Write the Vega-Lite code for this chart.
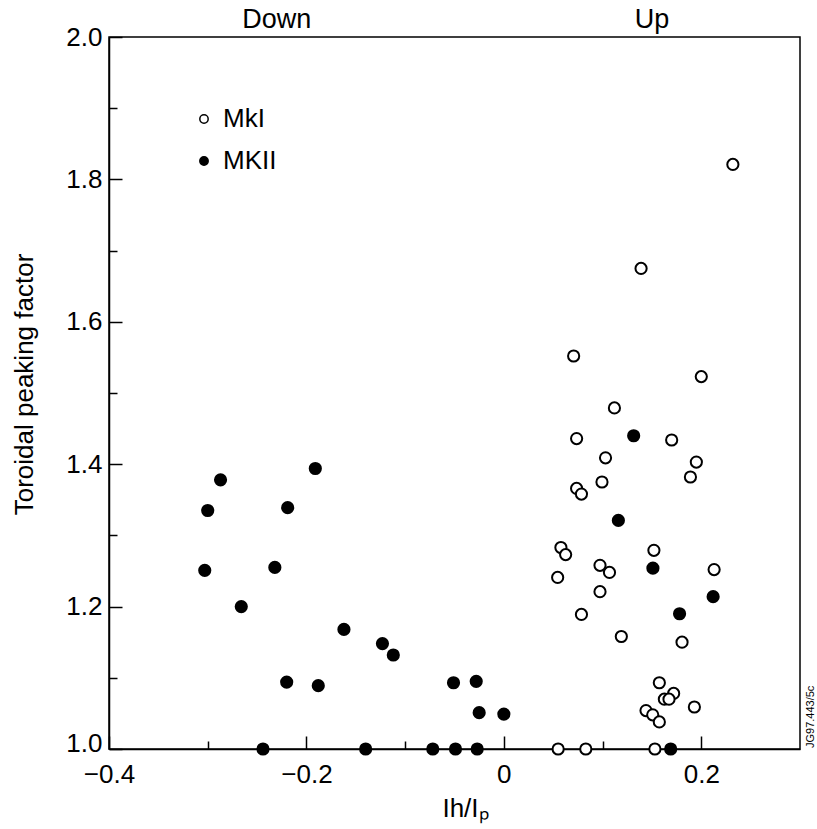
{
  "$schema": "https://vega.github.io/schema/vega-lite/v6.json",
  "autosize": {"type": "none"},
  "padding": {"left": 109, "top": 37, "right": 17, "bottom": 80},
  "width": 691,
  "height": 712,
  "background": "white",
  "config": {
    "font": "Liberation Sans",
    "view": {"stroke": "black", "strokeWidth": 1.5},
    "axis": {"grid": false, "domainColor": "black", "domainWidth": 1.5, "tickColor": "black", "tickWidth": 1.5, "labelColor": "black", "titleColor": "black", "labelFont": "Liberation Sans", "titleFont": "Liberation Sans", "labelFontSize": 26, "titleFontSize": 26, "titleFontWeight": "normal"}
  },
  "datasets": {
    "pts": [
      {"series": "MKII", "x": -0.287, "y": 1.378},
      {"series": "MKII", "x": -0.300, "y": 1.335},
      {"series": "MKII", "x": -0.191, "y": 1.394},
      {"series": "MKII", "x": -0.219, "y": 1.339},
      {"series": "MKII", "x": -0.303, "y": 1.251},
      {"series": "MKII", "x": -0.232, "y": 1.255},
      {"series": "MKII", "x": -0.266, "y": 1.200},
      {"series": "MKII", "x": -0.162, "y": 1.168},
      {"series": "MKII", "x": -0.123, "y": 1.148},
      {"series": "MKII", "x": -0.112, "y": 1.132},
      {"series": "MKII", "x": -0.220, "y": 1.094},
      {"series": "MKII", "x": -0.188, "y": 1.089},
      {"series": "MKII", "x": -0.244, "y": 1.0},
      {"series": "MKII", "x": -0.140, "y": 1.0},
      {"series": "MKII", "x": -0.051, "y": 1.093},
      {"series": "MKII", "x": -0.028, "y": 1.095},
      {"series": "MKII", "x": -0.025, "y": 1.051},
      {"series": "MKII", "x": 0.0, "y": 1.049},
      {"series": "MKII", "x": -0.072, "y": 1.0},
      {"series": "MKII", "x": -0.049, "y": 1.0},
      {"series": "MKII", "x": -0.027, "y": 1.0},
      {"series": "MKII", "x": 0.1315, "y": 1.440},
      {"series": "MKII", "x": 0.116, "y": 1.321},
      {"series": "MKII", "x": 0.151, "y": 1.254},
      {"series": "MKII", "x": 0.212, "y": 1.214},
      {"series": "MKII", "x": 0.178, "y": 1.190},
      {"series": "MKII", "x": 0.169, "y": 1.0},
      {"series": "MkI", "x": 0.232, "y": 1.821},
      {"series": "MkI", "x": 0.139, "y": 1.675},
      {"series": "MkI", "x": 0.0707, "y": 1.552},
      {"series": "MkI", "x": 0.200, "y": 1.523},
      {"series": "MkI", "x": 0.112, "y": 1.479},
      {"series": "MkI", "x": 0.0737, "y": 1.436},
      {"series": "MkI", "x": 0.170, "y": 1.434},
      {"series": "MkI", "x": 0.103, "y": 1.409},
      {"series": "MkI", "x": 0.195, "y": 1.403},
      {"series": "MkI", "x": 0.189, "y": 1.382},
      {"series": "MkI", "x": 0.0994, "y": 1.375},
      {"series": "MkI", "x": 0.0737, "y": 1.366},
      {"series": "MkI", "x": 0.0786, "y": 1.358},
      {"series": "MkI", "x": 0.0578, "y": 1.283},
      {"series": "MkI", "x": 0.0626, "y": 1.273},
      {"series": "MkI", "x": 0.152, "y": 1.279},
      {"series": "MkI", "x": 0.0974, "y": 1.258},
      {"series": "MkI", "x": 0.107, "y": 1.248},
      {"series": "MkI", "x": 0.213, "y": 1.252},
      {"series": "MkI", "x": 0.0545, "y": 1.241},
      {"series": "MkI", "x": 0.0974, "y": 1.221},
      {"series": "MkI", "x": 0.0786, "y": 1.189},
      {"series": "MkI", "x": 0.119, "y": 1.158},
      {"series": "MkI", "x": 0.1805, "y": 1.150},
      {"series": "MkI", "x": 0.1575, "y": 1.093},
      {"series": "MkI", "x": 0.172, "y": 1.078},
      {"series": "MkI", "x": 0.1626, "y": 1.070},
      {"series": "MkI", "x": 0.1673, "y": 1.070},
      {"series": "MkI", "x": 0.193, "y": 1.059},
      {"series": "MkI", "x": 0.144, "y": 1.054},
      {"series": "MkI", "x": 0.1508, "y": 1.048},
      {"series": "MkI", "x": 0.1575, "y": 1.038},
      {"series": "MkI", "x": 0.055, "y": 1.0},
      {"series": "MkI", "x": 0.083, "y": 1.0},
      {"series": "MkI", "x": 0.153, "y": 1.0}
    ],
    "regions": [
      {"label": "Down", "x": -0.23},
      {"label": "Up", "x": 0.15}
    ],
    "note": [
      {"label": "JG97.443/5c"}
    ]
  },
  "resolve": {"axis": {"x": "independent", "y": "independent"}},
  "layer": [
    {
      "mark": {"type": "rule", "color": "black", "strokeWidth": 1.5},
      "encoding": {
        "x": {"datum": 0, "type": "quantitative", "axis": null}
      }
    },
    {
      "data": {"name": "pts"},
      "mark": {"type": "point", "shape": "circle", "filled": true, "stroke": "black", "strokeWidth": 2, "size": 125, "opacity": 1},
      "encoding": {
        "x": {
          "field": "x", "type": "quantitative",
          "scale": {"domain": [-0.4, 0.3], "nice": false, "zero": false},
          "axis": {"orient": "bottom", "values": [-0.4, -0.2, 0, 0.2], "tickSize": -13, "labelPadding": 25, "labelExpr": "datum.value == 0 ? '0' : format(datum.value, '.1f')", "labelFlush": false, "labelOverlap": false, "title": "Ih/Iₚ", "titleX": 356, "titleY": 67, "titleBaseline": "alphabetic", "titleAnchor": "middle"}
        },
        "y": {
          "field": "y", "type": "quantitative",
          "scale": {"domain": [1.0, 2.0], "nice": false, "zero": false},
          "axis": {"orient": "left", "values": [1.0, 1.2, 1.4, 1.6, 1.8, 2.0], "format": ".1f", "tickSize": -13, "labelPadding": 20, "labelOffset": {"condition": {"test": "datum.value == 1", "value": -6}, "value": 0}, "labelOverlap": false, "labelFlush": false, "title": "Toroidal peaking factor", "titleX": -77, "titleY": 347, "titleAngle": -90, "titleBaseline": "alphabetic", "titleAnchor": "middle"}
        },
        "fill": {
          "field": "series", "type": "nominal",
          "scale": {"domain": ["MkI", "MKII"], "range": ["white", "black"]},
          "legend": {"orient": "none", "legendX": 82, "legendY": 69, "title": null, "padding": 0, "labelFontSize": 26, "labelFont": "Liberation Sans", "labelColor": "black", "symbolSize": 70, "symbolStrokeWidth": 1.5, "symbolStrokeColor": "black", "symbolType": "circle", "labelOffset": 6, "rowPadding": 16}
        }
      }
    },
    {
      "data": {"name": "regions"},
      "mark": {"type": "text", "fontSize": 27, "font": "Liberation Sans", "color": "black", "baseline": "alphabetic", "align": "center", "dy": -9},
      "encoding": {
        "x": {"field": "x", "type": "quantitative", "axis": {"orient": "bottom", "values": [-0.3, -0.1, 0.1], "tickSize": -8, "labels": false, "domain": false, "title": null}},
        "y": {"datum": 2.0, "type": "quantitative", "axis": {"orient": "left", "values": [1.1, 1.3, 1.5, 1.7, 1.9], "tickSize": -8, "labels": false, "domain": false, "title": null}},
        "text": {"field": "label"}
      }
    },
    {
      "data": {"name": "note"},
      "mark": {"type": "text", "fontSize": 11, "font": "Liberation Sans", "color": "black", "angle": 270, "align": "left", "baseline": "top", "dy": 5, "dx": 1},
      "encoding": {
        "x": {"datum": 0.3, "type": "quantitative", "axis": null},
        "y": {"datum": 1.0, "type": "quantitative", "axis": null},
        "text": {"field": "label"}
      }
    }
  ]
}
